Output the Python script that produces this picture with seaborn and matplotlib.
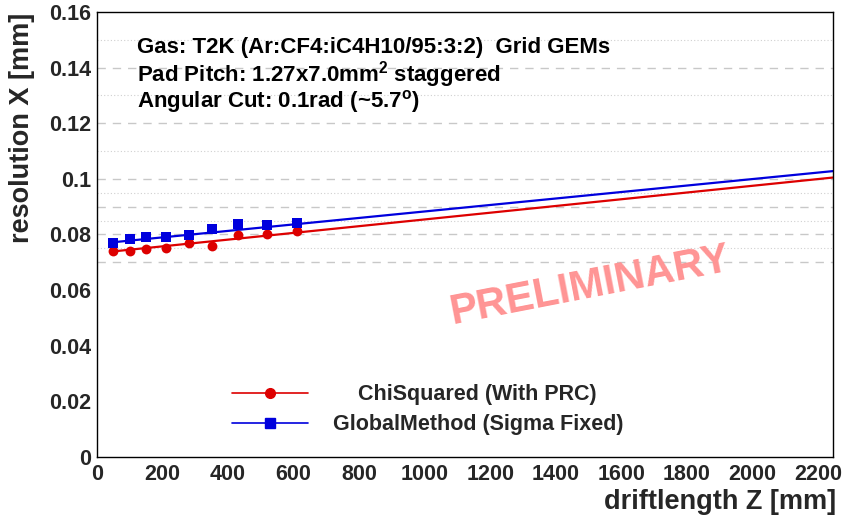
import numpy as np
import pandas as pd
import matplotlib
matplotlib.use("Agg")
import matplotlib.pyplot as plt
from matplotlib.lines import Line2D
import seaborn as sns

# ---- data ----
drift_chi = [50, 100, 150, 210, 280, 350, 430, 520, 610]
res_chi = [0.0741, 0.0742, 0.0749, 0.0753, 0.0768, 0.0758, 0.0798, 0.0801, 0.0814]
drift_glob = [50, 100, 150, 210, 280, 350, 430, 520, 610]
res_glob = [0.0771, 0.0785, 0.0791, 0.0791, 0.0799, 0.0819, 0.0839, 0.0833, 0.0840]
# linear fit parameters (intercept, slope) of the drawn fit lines
fit_chi = (0.07330, 1.21e-5)
fit_glob = (0.07662, 1.165e-5)
fit_range = (50, 2245)

series_labels = ["ChiSquared (With PRC)", "GlobalMethod (Sigma Fixed)"]
info_lines = ["Gas: T2K (Ar:CF4:iC4H10/95:3:2)  Grid GEMs",
              r"Pad Pitch: 1.27x7.0mm$^{\mathbf{2}}$ staggered",
              r"Angular Cut: 0.1rad (~5.7$^{\mathbf{o}}$)"]
x_ticks = list(range(0, 2201, 200))
y_ticks = [0, 0.02, 0.04, 0.06, 0.08, 0.1, 0.12, 0.14, 0.16]
y_tick_labels = ["0", "0.02", "0.04", "0.06", "0.08", "0.1", "0.12", "0.14", "0.16"]
grid_dashed = [0.07, 0.08, 0.09, 0.10, 0.12, 0.14]
grid_dotted = [0.075, 0.085, 0.095, 0.11, 0.13, 0.15]

sns.set_style("white")
plt.rcParams["font.family"] = ["Liberation Sans", "DejaVu Sans"]
plt.rcParams["font.weight"] = "bold"
plt.rcParams["mathtext.fontset"] = "custom"
plt.rcParams["mathtext.rm"] = "Liberation Sans:bold"
plt.rcParams["mathtext.bf"] = "Liberation Sans:bold"
plt.rcParams["mathtext.it"] = "Liberation Sans:bold"

RED = "#dd0000"
BLUE = "#0000dd"

fig = plt.figure(figsize=(8.43, 5.21), dpi=100)
ax = fig.add_axes([0.115, 0.123, 0.873, 0.854])

# grid lines
for g in grid_dashed:
    ax.axhline(g, color="#c8c8c8", lw=1.0, ls=(0, (6, 5)), zorder=0)
for g in grid_dotted:
    ax.axhline(g, color="#d0d0d0", lw=0.8, ls=(0, (1, 2)), zorder=0)

# fit lines
xf = np.linspace(fit_range[0], fit_range[1], 200)
df_fit = pd.DataFrame({
    "x": np.concatenate([xf, xf]),
    "y": np.concatenate([fit_chi[0] + fit_chi[1] * xf, fit_glob[0] + fit_glob[1] * xf]),
    "s": [series_labels[0]] * len(xf) + [series_labels[1]] * len(xf),
})
sns.lineplot(data=df_fit, x="x", y="y", hue="s", palette=[RED, BLUE], lw=1.6,
             legend=False, ax=ax, zorder=2)

# data points
df_chi = pd.DataFrame({"x": drift_chi, "y": res_chi})
df_glob = pd.DataFrame({"x": drift_glob, "y": res_glob})
sns.scatterplot(data=df_chi, x="x", y="y", color=RED, marker="o", s=50,
                edgecolor=RED, linewidth=0, ax=ax, zorder=3)
sns.scatterplot(data=df_glob, x="x", y="y", color=BLUE, marker="s", s=52,
                edgecolor=BLUE, linewidth=0, ax=ax, zorder=3)

ax.set_xlim(0, 2245)
ax.set_ylim(0, 0.16)
ax.set_xticks(x_ticks)
ax.set_xticklabels([str(v) for v in x_ticks])
ax.set_yticks(y_ticks)
ax.set_yticklabels(y_tick_labels)
ax.xaxis.set_minor_locator(matplotlib.ticker.MultipleLocator(50))
ax.yaxis.set_minor_locator(matplotlib.ticker.MultipleLocator(0.005))
ax.tick_params(axis="both", which="both", direction="in", top=False, right=False,
               labelsize=15.5, color="black")
ax.tick_params(axis="both", which="major", length=14, width=1.0)
ax.tick_params(axis="both", which="minor", length=7, width=1.0)
ax.tick_params(axis="y", pad=4)
ax.tick_params(axis="x", pad=5)
for lab in ax.get_xticklabels() + ax.get_yticklabels():
    lab.set_fontweight("bold")
for sp in ax.spines.values():
    sp.set_color("black")
    sp.set_linewidth(1.0)

ax.set_xlabel("driftlength Z [mm]", fontsize=19.5, fontweight="bold", ha="right", va="center")
ax.xaxis.set_label_coords(1.005, -0.101)
ax.set_ylabel("resolution X [mm]", fontsize=19.5, fontweight="bold", ha="right", va="center")
ax.yaxis.set_label_coords(-0.102, 0.998)

# info text
for i, t in enumerate(info_lines):
    ax.text(0.055, 0.921 - i * 0.061, t, transform=ax.transAxes, fontsize=16,
            fontweight="bold", ha="left", va="center", color="black")

# PRELIMINARY watermark
ax.text(1505, 0.0615, "PRELIMINARY", fontsize=30, fontweight="bold", color="#ff9494",
        rotation=11, ha="center", va="center", zorder=1)

# legends (two rows, separate so text offsets match)
h_chi = Line2D([], [], color=RED, lw=1.2, marker="o", markersize=7)
h_glob = Line2D([], [], color=BLUE, lw=1.2, marker="s", markersize=7)
leg1 = ax.legend([h_chi], [series_labels[0]], loc="center left",
                 bbox_to_anchor=(0.184, 0.14), frameon=False,
                 handlelength=3.53, handletextpad=2.3, borderpad=0, borderaxespad=0,
                 prop={"weight": "bold", "size": 15.5})
ax.add_artist(leg1)
leg2 = ax.legend([h_glob], [series_labels[1]], loc="center left",
                 bbox_to_anchor=(0.184, 0.072), frameon=False,
                 handlelength=3.53, handletextpad=1.15, borderpad=0, borderaxespad=0,
                 prop={"weight": "bold", "size": 15.5})

fig.savefig("out.png", dpi=100)
